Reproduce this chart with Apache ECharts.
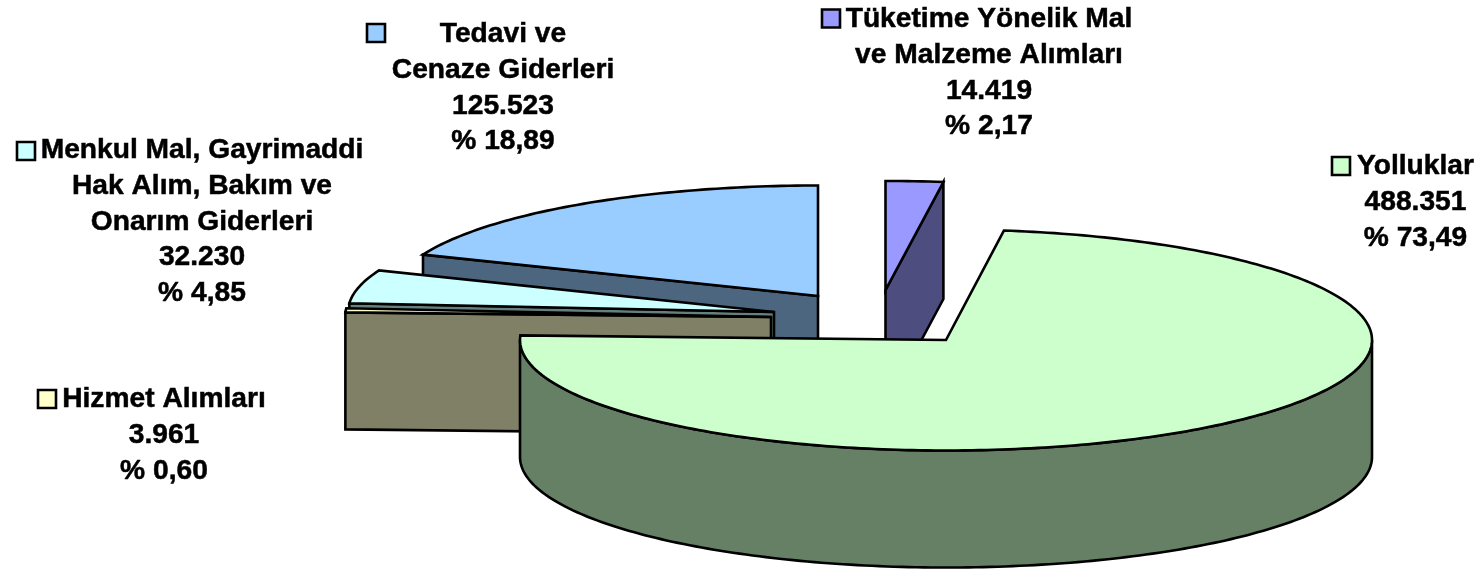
<!DOCTYPE html>
<html><head><meta charset="utf-8">
<style>html,body{margin:0;padding:0;background:#fff}#c{width:1481px;height:570px}</style>
<script src="https://cdn.jsdelivr.net/npm/echarts@6/dist/echarts.min.js"></script>
</head><body><div id="c"></div>
<script>
// --- data (clockwise, first slice starts just after the last one ends at 12 o'clock)
const categories = ['Yolluklar', 'Hizmet Alımları', 'Menkul Mal, Gayrimaddi\nHak Alım, Bakım ve\nOnarım Giderleri', 'Tedavi ve\nCenaze Giderleri', 'Tüketime Yönelik Mal\nve Malzeme Alımları'];
const values = [488351, 3961, 32230, 125523, 14419];
const valueLabels = ['488.351', '3.961', '32.230', '125.523', '14.419'];
const percentLabels = ['% 73,49', '% 0,60', '% 4,85', '% 18,89', '% 2,17'];
const colors = ['#CCFFCC', '#FFFFCC', '#CCFFFF', '#99CCFF', '#9999FF'];
const wallColors = ['#668066', '#808066', '#668080', '#4D6680', '#4D4D80'];

// --- layout
const RX = 426, DEPTH = 117;
const apexX = [946, 771, 774, 818, 885.5];
const apexY = [340, 317, 312, 296, 290];
const radiusY = [110.5, 111, 111, 110.5, 109];
const drawOrder = [3, 4, 2, 1, 0];
const labelX = [1415.5, 164, 202, 503, 989];
const labelY = [166.5, 399.5, 150.5, 34.5, 19.5];
const keyX = [1332, 38, 17, 367, 822];
const keyY = [157, 390, 142, 24, 9.5];
const KEY = 18, FONT = 28.2, LINE = 35.7;

const total = values.reduce((a, b) => a + b, 0);
const spans = values.map(v => v / total * 360);
const starts = [];
// The last slice begins at 12 o'clock; the first begins where it ends.
let acc = spans[spans.length - 1];
spans.forEach((s, i) => { starts.push(acc); acc += s; });
starts[starts.length - 1] = 0;

function renderItem(params, api) {
  const i = drawOrder[params.dataIndex];
  const a0 = starts[i], a1 = a0 + spans[i];
  const ax = apexX[i], ay = apexY[i], ry = radiusY[i];
  const pt = (d, drop) => {
    const t = d * Math.PI / 180;
    return [ax + RX * Math.sin(t), ay - ry * Math.cos(t) + (drop || 0)];
  };
  const arc = (from, to, drop) => {
    const out = [];
    const n = Math.max(2, Math.ceil((to - from)));
    for (let k = 0; k <= n; k++) out.push(pt(from + (to - from) * k / n, drop));
    return out;
  };
  const lineStyle = { stroke: '#000', lineWidth: 2.6, lineJoin: 'miter' };
  const poly = (points, fill) => ({ type: 'polygon', shape: { points }, style: Object.assign({ fill }, lineStyle) });
  const children = [];
  const wall = wallColors[i];
  // radial faces that look toward the viewer
  if (a0 > 180 && a0 < 360) children.push(poly([[ax, ay], pt(a0), pt(a0, DEPTH), [ax, ay + DEPTH]], wall));
  if (a1 > 0 && a1 < 180) children.push(poly([[ax, ay], pt(a1), pt(a1, DEPTH), [ax, ay + DEPTH]], wall));
  // outer rim, front half only
  const f0 = Math.max(a0, 90), f1 = Math.min(a1, 270);
  if (f1 > f0) children.push(poly(arc(f0, f1).concat(arc(f0, f1, DEPTH).reverse()), wall));
  // top face
  children.push(poly([[ax, ay]].concat(arc(a0, a1)), colors[i]));
  return { type: 'group', children };
}

function labelItem(params) {
  const i = params.dataIndex;
  const text = [categories[i], valueLabels[i], percentLabels[i]].join('\n');
  return {
    type: 'group',
    children: [
      { type: 'rect', shape: { x: keyX[i], y: keyY[i], width: KEY, height: KEY },
        style: { fill: colors[i], stroke: '#000', lineWidth: 2.6 } },
      { type: 'text', x: labelX[i], y: labelY[i] - LINE / 2,
        style: { text, fill: '#000', stroke: '#000', lineWidth: 0.5, align: 'center', verticalAlign: 'top',
          font: 'bold ' + FONT + 'px "Liberation Sans", Arial, sans-serif', lineHeight: LINE } }
    ]
  };
}

const chart = echarts.init(document.getElementById('c'), null, { renderer: 'canvas', width: 1481, height: 570 });
chart.setOption({
  animation: false,
  backgroundColor: '#fff',
  series: [
    { type: 'custom', coordinateSystem: 'none', silent: true, z: 1, clip: false,
      renderItem, data: values.map((v, i) => values[drawOrder[i]]) },
    { type: 'custom', coordinateSystem: 'none', silent: true, z: 2, clip: false,
      renderItem: labelItem, data: values }
  ]
});
</script></body></html>
